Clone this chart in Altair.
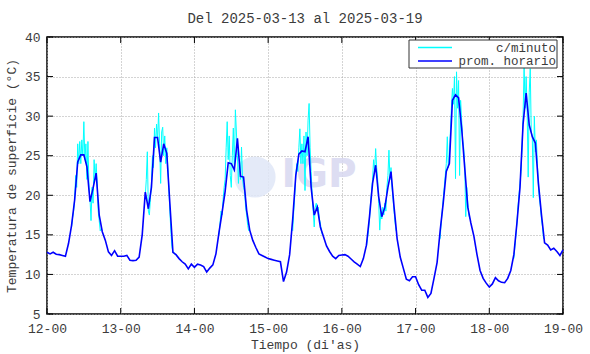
import altair as alt
import pandas as pd

TITLE = "Del 2025-03-13 al 2025-03-19"
X_TITLE = "Tiempo (di'as)"
Y_TITLE = "Temperatura de superficie (°C)"
SERIES = ["c/minuto", "prom. horario"]
COLORS = ["#00ffff", "#0000ff"]
X_TICKS = [12, 13, 14, 15, 16, 17, 18, 19]
Y_TICKS = [5, 10, 15, 20, 25, 30, 35, 40]
WATERMARK = "IGP"

# hourly averages (prom. horario), one value per hour, day by day
DAYS = [12, 13, 14, 15, 16, 17, 18]
hourly_12 = [12.8, 12.6, 12.8, 12.55, 12.5, 12.4, 12.3, 13.9, 16.2, 19.4, 24.2, 25.1,
             25.1, 23.6, 19.2, 20.9, 22.8, 17.5, 15.4, 14.3, 12.85, 12.4, 13.0, 12.3]
hourly_13 = [12.3, 12.3, 12.4, 11.8, 11.75, 11.8, 12.2, 15.0, 20.4, 18.3, 21.0, 27.3,
             27.3, 24.2, 26.5, 25.3, 19.0, 12.8, 12.5, 12.0, 11.6, 11.3, 10.7, 11.3]
hourly_14 = [10.9, 11.3, 11.2, 11.0, 10.3, 10.8, 11.2, 12.6, 15.3, 17.8, 20.5, 24.1,
             24.0, 23.2, 27.2, 22.4, 22.3, 18.1, 15.6, 14.3, 13.4, 12.6, 12.4, 12.2]
hourly_15 = [12.0, 11.9, 11.8, 11.7, 11.6, 9.1, 10.3, 12.5, 17.0, 22.5, 25.2, 25.6,
             25.5, 27.4, 21.0, 17.5, 18.5, 16.0, 14.8, 13.6, 12.9, 12.3, 12.0, 12.4]
hourly_16 = [12.45, 12.5, 12.3, 11.95, 11.6, 11.3, 11.0, 12.0, 13.7, 17.3, 21.5, 23.8,
             19.8, 17.3, 18.5, 21.0, 23.0, 18.5, 14.5, 12.2, 10.8, 9.4, 9.2, 9.7]
hourly_17 = [9.7, 8.7, 8.0, 8.0, 7.1, 7.6, 9.5, 11.5, 15.5, 19.0, 23.0, 24.0,
             32.0, 32.7, 32.3, 28.5, 23.5, 18.5, 16.5, 14.8, 12.5, 10.5, 9.5, 8.9]
hourly_18 = [8.4, 8.8, 9.6, 9.2, 9.0, 8.95, 9.5, 10.5, 12.5, 16.5, 21.0, 29.0,
             32.9, 28.9, 27.4, 26.6, 21.5, 17.5, 14.0, 13.7, 13.1, 13.3, 12.9, 12.4]
hourly_last = 13.1  # value at 19-00

# per-minute readings (c/minuto), daytime, one reading every 20 minutes from 08:00
CYAN_START_HOUR = 8
CYAN_STEP_MIN = 20
cyan_12 = [16.0, 17.2, 18.0, 19.5, 22.5, 21.0, 26.5, 24.0, 26.8, 24.0, 27.0, 25.0,
           29.3, 24.5, 26.5, 22.0, 26.8, 21.0, 19.5, 16.8, 21.0, 19.0, 24.5, 22.0,
           24.0, 21.5, 18.0, 16.8, 15.5, 15.8]
cyan_13 = [20.0, 22.0, 25.5, 18.0, 17.5, 19.5, 21.5, 25.0, 23.5, 28.5, 26.0, 29.0,
           27.0, 30.4, 26.5, 21.5, 28.0, 28.6, 25.0, 27.5, 24.0, 26.0, 23.5, 21.0,
           18.0, 15.5, 13.5, 12.8, 12.8, 12.5]
cyan_14 = [15.0, 16.5, 18.0, 17.5, 19.5, 21.0, 22.0, 26.0, 29.3, 24.5, 27.5, 22.5,
           21.0, 25.0, 28.5, 23.0, 30.8, 28.0, 25.0, 21.5, 24.5, 22.0, 26.1, 22.0,
           21.0, 20.5, 18.5, 17.5, 16.2, 15.5]
cyan_15 = [15.5, 18.0, 20.0, 22.5, 24.0, 23.0, 26.0, 28.4, 24.0, 26.5, 24.0, 27.5,
           20.6, 28.0, 25.0, 29.5, 31.6, 26.0, 23.0, 20.0, 18.0, 16.0, 18.5, 19.0,
           18.0, 18.5, 17.0, 16.5, 15.5, 15.0]
cyan_16 = [13.5, 14.5, 15.5, 17.0, 19.0, 20.5, 22.0, 24.5, 23.0, 25.9, 23.5, 22.0,
           19.0, 15.6, 18.0, 17.0, 18.5, 17.5, 19.0, 18.0, 21.0, 22.5, 25.7, 22.0,
           23.5, 21.0, 19.5, 18.0, 16.5, 15.5]
cyan_17 = [14.5, 16.5, 18.0, 19.5, 21.0, 22.5, 24.0, 27.4, 23.5, 25.0, 28.0, 31.0,
           33.5, 31.5, 35.0, 22.1, 35.6, 31.0, 34.5, 22.5, 32.0, 29.5, 27.0, 26.0,
           24.0, 17.3, 21.0, 19.0, 17.5, 17.0]
cyan_18 = [12.0, 13.5, 15.0, 16.5, 18.5, 20.0, 21.5, 23.0, 26.0, 30.0, 36.3, 31.0,
           35.0, 30.5, 22.3, 33.0, 36.0, 28.0, 27.5, 19.7, 30.0, 25.5, 27.0, 24.0,
           21.0, 19.5, 18.5, 17.0, 16.0, 14.5]

hourly = [hourly_12, hourly_13, hourly_14, hourly_15, hourly_16, hourly_17, hourly_18]
cyan = [cyan_12, cyan_13, cyan_14, cyan_15, cyan_16, cyan_17, cyan_18]

rows = []
for d, vals in zip(DAYS, hourly):
    for h, v in enumerate(vals):
        rows.append({"t": d + h / 24, "temp": v, "serie": SERIES[1]})
rows.append({"t": X_TICKS[-1], "temp": hourly_last, "serie": SERIES[1]})
blue_df = pd.DataFrame(rows)

rows = []
for d, vals in zip(DAYS, cyan):
    for j, v in enumerate(vals):
        rows.append({"t": d + (CYAN_START_HOUR + j * CYAN_STEP_MIN / 60) / 24,
                     "temp": v, "serie": SERIES[0], "seg": d})
cyan_df = pd.DataFrame(rows)

W, H = 516, 277
FONT = "Liberation Mono"
TXT = "#3c3c3c"

xscale = alt.Scale(domain=[X_TICKS[0], X_TICKS[-1]], nice=False, zero=False)
yscale = alt.Scale(domain=[Y_TICKS[0], Y_TICKS[-1]], nice=False, zero=False)
xaxis = alt.Axis(values=X_TICKS, labelExpr="format(datum.value,'d') + '-00'",
                 title=X_TITLE, grid=True, ticks=False, domain=False,
                 labelFlush=False, labelOverlap=False, labelPadding=8, titlePadding=3,
                 labelFont=FONT, titleFont=FONT, labelFontSize=13, titleFontSize=13,
                 titleFontWeight="normal", labelColor=TXT, titleColor=TXT)
yaxis = alt.Axis(values=Y_TICKS, title=Y_TITLE, grid=True, ticks=False, domain=False,
                 labelPadding=7, titlePadding=6,
                 labelFont=FONT, titleFont=FONT, labelFontSize=13, titleFontSize=13,
                 titleFontWeight="normal", labelColor=TXT, titleColor=TXT)

color = alt.Color("serie:N", scale=alt.Scale(domain=SERIES, range=COLORS), legend=None)

X = alt.X("t:Q", scale=xscale, axis=xaxis)
Y = alt.Y("temp:Q", scale=yscale, axis=yaxis)

wm_df = pd.DataFrame({"label": [WATERMARK]})
wm_circle = alt.Chart(wm_df).mark_circle(color="#dfe6f7", opacity=0.85, size=1700).encode(
    x=alt.value(208), y=alt.value(140))
wm_text = alt.Chart(wm_df).mark_text(font="DejaVu Sans", fontWeight="bold", fontSize=39,
                                     color="#d8d8f0", opacity=0.85, align="center",
                                     baseline="middle").encode(
    x=alt.value(272), y=alt.value(138), text="label:N")

cyan_line = alt.Chart(cyan_df).mark_line(strokeWidth=1).encode(
    x=X, y=Y, color=color, detail="seg:N")
blue_line = alt.Chart(blue_df).mark_line(strokeWidth=1.6).encode(x=X, y=Y, color=color)

yt_df = pd.DataFrame({"temp": Y_TICKS})
xt_df = pd.DataFrame({"t": X_TICKS})
tick_style = dict(color="black", strokeWidth=1)
yt_left = alt.Chart(yt_df).mark_rule(**tick_style).encode(y=Y, x=alt.value(0), x2=alt.value(6))
yt_right = alt.Chart(yt_df).mark_rule(**tick_style).encode(y=Y, x=alt.value(W - 6), x2=alt.value(W))
xt_bot = alt.Chart(xt_df).mark_rule(**tick_style).encode(x=X, y=alt.value(H - 6), y2=alt.value(H))
xt_top = alt.Chart(xt_df).mark_rule(**tick_style).encode(x=X, y=alt.value(0), y2=alt.value(6))

# legend box (top right, inside the frame)
leg_df = pd.DataFrame({"serie": SERIES, "row": [0, 1]})
LX0, LX1, LY0, LY1 = 362, 510, 3, 31
ROW_Y = [10.5, 24]
leg_box = alt.Chart(pd.DataFrame({"k": [0]})).mark_rect(
    fill="white", stroke="#333333", strokeWidth=1).encode(
    x=alt.value(LX0), x2=alt.value(LX1), y=alt.value(LY0), y2=alt.value(LY1))
leg_lines = [
    alt.Chart(leg_df[leg_df.row == i]).mark_rule(strokeWidth=1.5).encode(
        x=alt.value(371), x2=alt.value(405), y=alt.value(ROW_Y[i]), color=color)
    for i in range(2)
]
leg_text = [
    alt.Chart(leg_df[leg_df.row == i]).mark_text(
        font=FONT, fontSize=12.5, color=TXT, align="right", baseline="middle").encode(
        x=alt.value(LX1 - 1), y=alt.value(ROW_Y[i]), text="serie:N")
    for i in range(2)
]

chart = alt.layer(wm_circle, wm_text, cyan_line, blue_line, yt_left, yt_right, xt_bot, xt_top,
                  leg_box, *leg_lines, *leg_text).properties(
    width=W, height=H,
    title=alt.TitleParams(TITLE, font=FONT, fontSize=14, fontWeight="normal", color=TXT,
                          offset=5, anchor="middle"),
    autosize=alt.AutoSizeParams(type="none"),
    padding={"left": 47, "top": 37, "right": 27, "bottom": 40},
).configure(background="white").configure_view(stroke="black", strokeWidth=1.5).configure_axis(
    labelFont=FONT, labelFontSize=13, labelColor=TXT, titleFont=FONT, titleFontSize=13,
    titleFontWeight="normal", titleColor=TXT, gridColor="#a8a8a8", gridDash=[1, 2],
    gridWidth=1)

chart.save("out.html", embed_options={"renderer": "svg", "actions": False})
